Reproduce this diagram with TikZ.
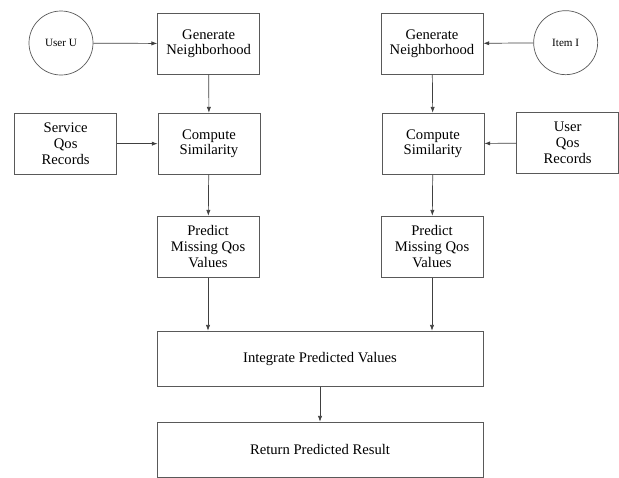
\documentclass[tikz,border=0pt]{standalone}
\usepackage{fontspec}
\setmainfont{Liberation Serif}
\usepackage{xcolor}
\usepackage{tikz}
\usetikzlibrary{arrows.meta}

\tikzset{
  stepbox/.style={draw=black!65,line width=0.6pt,minimum width=3.06cm,minimum height=1.83cm,
    align=center,inner sep=0pt,font=\fontsize{12.5}{13.5}\selectfont},
  widebox/.style={stepbox,minimum width=9.78cm,minimum height=1.65cm},
  source/.style={circle,draw=black!65,line width=0.6pt,minimum size=1.92cm,inner sep=0pt,
    font=\fontsize{9.5}{11}\selectfont},
  flow/.style={draw=black!75,line width=0.6pt,-{Latex[length=5pt,width=3.6pt]}}
}

\begin{document}
\begin{tikzpicture}
\useasboundingbox (0,0) rectangle (18.57,-14.31);
%% left branch
\node[source] (userU) at (1.83,-1.29) {User U};
\node[stepbox] (genL) at (6.26,-1.31) {Generate\\Neighborhood};
\node[stepbox] (svcRec) at (1.97,-4.31) {Service\\Qos\\Records};
\node[stepbox] (simL) at (6.27,-4.31) {Compute\\Similarity};
\node[stepbox] (predL) at (6.24,-7.40) {Predict\\Missing Qos\\Values};
%% right branch
\node[source] (itemI) at (16.97,-1.28) {Item I};
\node[stepbox] (genR) at (12.96,-1.31) {Generate\\Neighborhood};
\node[stepbox] (usrRec) at (17.03,-4.29) {User\\Qos\\Records};
\node[stepbox] (simR) at (12.99,-4.31) {Compute\\Similarity};
\node[stepbox] (predR) at (12.96,-7.40) {Predict\\Missing Qos\\Values};
%% bottom
\node[widebox] (integ) at (9.6,-10.76) {Integrate Predicted Values};
\node[widebox] (result) at (9.6,-13.49) {Return Predicted Result};
%%
\draw[flow] (userU) -- (genL);
\draw[flow] (genL) -- (simL);
\draw[flow] (svcRec) -- (simL);
\draw[flow] (simL) -- (predL);
\draw[flow] (predL) -- (predL |- integ.north);
%%
\draw[flow] (itemI) -- (genR);
\draw[flow] (genR) -- (simR);
\draw[flow] (usrRec) -- (simR);
\draw[flow] (simR) -- (predR);
\draw[flow] (predR) -- (predR |- integ.north);
%%
\draw[flow] (integ) -- (result);
\end{tikzpicture}
\end{document}
